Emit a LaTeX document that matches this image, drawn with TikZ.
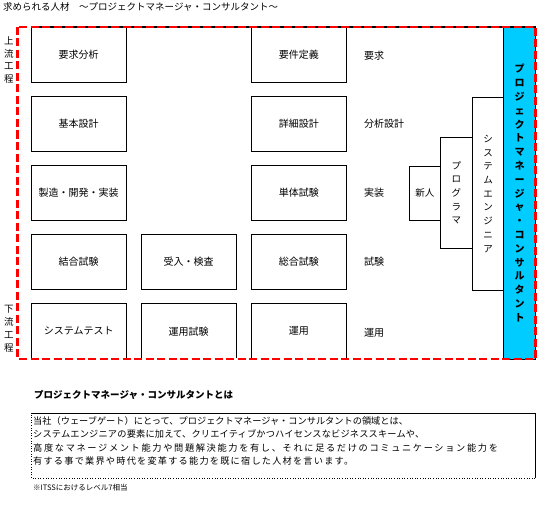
\documentclass[tikz,border=0pt]{standalone}
\usepackage{fontspec}
\setmainfont{Noto Sans CJK JP}
\definecolor{framered}{RGB}{255,0,0}
\definecolor{pmcyan}{RGB}{0,204,255}
\begin{document}
\begin{tikzpicture}[x=1pt,y=-1pt,
  stagebox/.style={draw, line width=1.1pt, minimum width=95pt, minimum height=55pt, inner sep=0pt, font=\fontsize{10}{11}\selectfont},
  sidelabel/.style={anchor=west, inner sep=0pt, font=\fontsize{10}{11}\selectfont},
  stair/.style={draw, line width=0.8pt, inner sep=0pt, align=center, font=\fontsize{9.5}{13.7}\selectfont},
  vlabel/.style={inner sep=0pt, align=center, font=\fontsize{9.5}{12.9}\selectfont},
  bodytext/.style={anchor=west, inner sep=0pt, font=\fontsize{9.2}{11}\selectfont},
  reddash/.style={draw=framered, line width=2.6pt, dash pattern=on 8pt off 3.5pt}
]
\useasboundingbox (0,0) rectangle (551,508);

% title
\node[anchor=west, inner sep=0pt, font=\fontsize{9.5}{11}\selectfont] (title) at (3,7) {求められる人材　～プロジェクトマネージャ・コンサルタント～};

% left labels
\node[vlabel] (upper) at (9,60) {上\\流\\工\\程};
\node[vlabel] (lower) at (9,328.5) {下\\流\\工\\程};

% column 1
\node[stagebox] (a1) at (78.7,54.7) {要求分析};
\node[stagebox] (a2) at (78.7,124) {基本設計};
\node[stagebox] (a3) at (78.7,192.9) {製造・開発・実装};
\node[stagebox] (a4) at (78.7,261.8) {結合試験};
\node[stagebox] (a5) at (78.7,331.3) {システムテスト};
% column 2
\node[stagebox] (b4) at (188.7,261.8) {受入・検査};
\node[stagebox] (b5) at (188.7,331.3) {運用試験};
% column 3
\node[stagebox] (c1) at (298.8,54.7) {要件定義};
\node[stagebox] (c2) at (298.8,124) {詳細設計};
\node[stagebox] (c3) at (298.8,192.9) {単体試験};
\node[stagebox] (c4) at (298.8,261.8) {総合試験};
\node[stagebox] (c5) at (298.8,331.3) {運用};
% side labels
\node[sidelabel] (d1) at (364,55.5) {要求};
\node[sidelabel] (d2) at (364,124) {分析設計};
\node[sidelabel] (d3) at (364,193) {実装};
\node[sidelabel] (d4) at (364,262) {試験};
\node[sidelabel] (d5) at (364,333) {運用};

% stairs
\node[stair, minimum width=31pt, minimum height=54.7pt] (newbie) at (424.8,193.35) {新人};
\node[stair, minimum width=32pt, minimum height=111pt] (prog) at (456.3,192.8) {プ\\ロ\\グ\\ラ\\マ};
\node[stair, minimum width=31.4pt, minimum height=193pt] (se) at (488,193.8) {シ\\ス\\テ\\ム\\エ\\ン\\ジ\\ニ\\ア};
\node[stair, fill=pmcyan, minimum width=31.8pt, minimum height=332pt, font=\fontsize{10}{13.8}\selectfont\bfseries] (pm) at (519.6,193) {プ\\ロ\\ジ\\ェ\\ク\\ト\\マ\\ネ\\ー\\ジ\\ャ\\・\\コ\\ン\\サ\\ル\\タ\\ン\\ト};

% frame
\coordinate (ftl) at (17.5,27);
\coordinate (fbr) at (535.5,359);
\draw[line width=1.1pt] (31,27) -- (535.5,27);
\draw[white, line width=2.6pt] (17.5,359) -- (503,359);
\draw[reddash] (ftl) rectangle (fbr);

% definition
\node[anchor=west, inner sep=0pt, font=\fontsize{9.5}{11}\selectfont\bfseries] (deftitle) at (34,394.5) {プロジェクトマネージャ・コンサルタントとは};
\coordinate (dtl) at (31,413.5);
\coordinate (dtr) at (535,413.5);
\coordinate (dbr) at (535,478);
\coordinate (dbl) at (31,478);
\draw[line width=0.8pt] (dtl) -- (dtr) -- (dbr);
\draw[line width=0.6pt, dotted] (dbr) -- (dbl) -- (dtl);
\node[bodytext] (l1) at (33,421) {当社（ウェーブゲート）にとって、プロジェクトマネージャ・コンサルタントの領域とは、};
\node[bodytext] (l2) at (33,434.3) {\addfontfeature{LetterSpace=2}システムエンジニアの要素に加えて、クリエイティブかつハイセンスなビジネススキームや、};
\node[bodytext] (l3) at (33,447.6) {\addfontfeature{LetterSpace=18}高度なマネージメント能力や問題解決能力を有し、それに足るだけのコミュニケーション能力を};
\node[bodytext] (l4) at (33,460.9) {\addfontfeature{LetterSpace=13}有する事で業界や時代を変革する能力を既に宿した人材を言います。};
\node[anchor=west, inner sep=0pt, font=\fontsize{7.5}{9}\selectfont] (note) at (33,488) {※ITSSにおけるレベル7相当};
\end{tikzpicture}
\end{document}
